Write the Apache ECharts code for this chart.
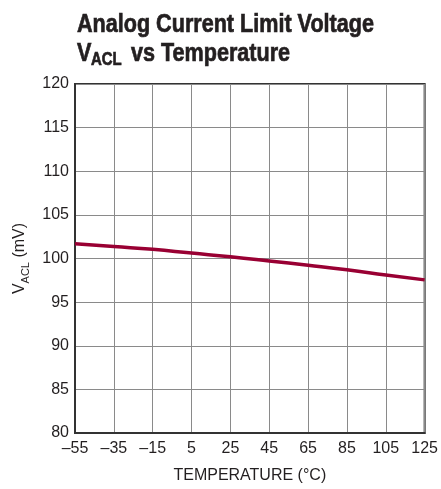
<!DOCTYPE html>
<html>
<head>
<meta charset="utf-8">
<script src="https://cdn.jsdelivr.net/npm/echarts@6/dist/echarts.min.js"></script>
<style>html,body{margin:0;padding:0;background:#fff;}#c{width:441px;height:489px;}</style>
</head>
<body>
<div id="c"></div>
<script>
var temperatures = ['-55', '-35', '-15', '5', '25', '45', '65', '85', '105', '125'];
var vacl = [101.7, 101.37, 101.05, 100.62, 100.2, 99.72, 99.22, 98.7, 98.12, 97.55];
var yMin = 80, yMax = 120, yStep = 5;
var titleLine1 = 'Analog Current Limit Voltage';
var titleV = 'V', titleSub = 'ACL', titleRest = 'vs Temperature';

var chart = echarts.init(document.getElementById('c'), null, {renderer: 'canvas'});
var F = '"Liberation Sans", Arial, sans-serif';
var TC = '#231f20';
function tt(txt, x, y, size, sx) {
  return {
    type: 'text', x: x, y: y, scaleX: sx,
    style: {text: txt, font: 'bold ' + size + 'px ' + F, fill: TC, stroke: TC, lineWidth: 0.7,
      verticalAlign: 'middle', align: 'left'}
  };
}
chart.setOption({
  animation: false,
  backgroundColor: '#fff',
  graphic: [
    tt(titleLine1, 77, 25, 26, 0.83),
    tt(titleV, 77, 53.4, 26, 0.83),
    tt(titleSub, 91, 60.2, 18, 0.83),
    tt(titleRest, 131, 53.4, 26, 0.83)
  ],
  grid: {left: 75, right: 14, top: 84, bottom: 54, show: true, borderColor: '#333', borderWidth: 2},
  xAxis: {
    type: 'category', data: temperatures, boundaryGap: false,
    axisLine: {show: true, lineStyle: {color: '#333', width: 2}},
    axisTick: {show: false},
    splitLine: {show: true, lineStyle: {color: '#8a8a8a', width: 1}},
    axisLabel: {color: TC, fontFamily: F, fontSize: 16, margin: 8,
      formatter: function (v) { return v.replace('-', '\u2013'); }},
    name: 'TEMPERATURE (°C)', nameLocation: 'middle', nameGap: 35,
    nameTextStyle: {color: TC, fontFamily: F, fontSize: 16}
  },
  yAxis: {
    type: 'value', min: yMin, max: yMax, interval: yStep,
    axisLine: {show: true, lineStyle: {color: '#333', width: 2}},
    axisTick: {show: false},
    splitLine: {show: true, lineStyle: {color: '#8a8a8a', width: 1}},
    axisLabel: {color: TC, fontFamily: F, fontSize: 16, margin: 6},
    name: '{v|V}{s|ACL}{v| (mV)}', nameLocation: 'middle', nameGap: 47, nameRotate: 90,
    nameTextStyle: {
      color: TC, fontFamily: F, fontSize: 16,
      rich: {
        v: {fontFamily: F, fontSize: 16, color: TC},
        s: {fontFamily: F, fontSize: 11, color: TC, verticalAlign: 'bottom', padding: [0,0,-4,0]}
      }
    }
  },
  series: [{
    type: 'line', data: vacl, showSymbol: false, smooth: true,
    lineStyle: {color: '#990033', width: 3.5}
  }]
});
</script>
</body>
</html>
